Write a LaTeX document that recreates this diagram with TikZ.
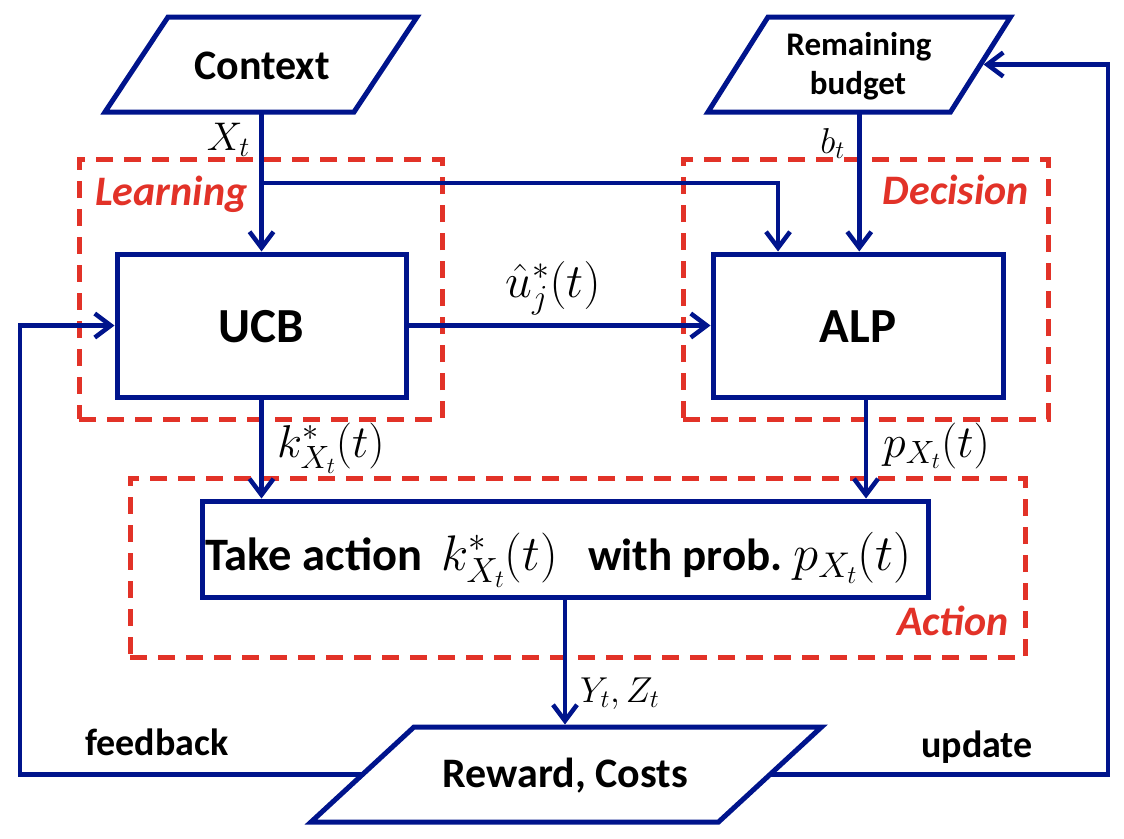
\documentclass[tikz,border=0pt]{standalone}
\usepackage{fix-cm}
\usepackage[no-math]{fontspec}
\setmainfont{Carlito}
\usetikzlibrary{arrows.meta,calc}
\definecolor{navy}{RGB}{0,20,140}
\definecolor{dred}{RGB}{226,50,40}
\tikzset{
  box/.style={draw=navy, line width=5pt, inner sep=0pt, line join=miter},
  pshape/.style={inner sep=0pt, outer sep=0pt},
  grp/.style={draw=dred, line width=5pt, dash pattern=on 17pt off 11pt, inner sep=0pt},
  conn/.style={draw=navy, line width=4.5pt, line join=miter,
    -{Straight Barb[length=16pt,width=24pt]}},
  txt/.style={inner sep=0pt, font=\bfseries\fontsize{42}{50}\selectfont},
  smalltxt/.style={inner sep=0pt, font=\bfseries\fontsize{33}{40}\selectfont},
  sidetxt/.style={inner sep=0pt, font=\bfseries\fontsize{38}{45}\selectfont},
  bigtxt/.style={inner sep=0pt, font=\bfseries\fontsize{49}{58}\selectfont},
  grptxt/.style={inner sep=0pt, text=dred, font=\bfseries\itshape\fontsize{42}{50}\selectfont},
  mlbl/.style={inner sep=0pt, font=\fontsize{46}{55}\selectfont},
  slbl/.style={inner sep=0pt, font=\fontsize{36}{43}\selectfont},
  taketxt/.style={inner sep=0pt, anchor=base west},
}
\begin{document}
\begin{tikzpicture}[x=1pt,y=-1pt]
\fill[white] (0,0) rectangle (1124,838);
\useasboundingbox (0,0) rectangle (1124,838);

% groups
\node[grp, minimum width=363pt, minimum height=260pt] (learn) at (260.5,289) {};
\node[grp, minimum width=365pt, minimum height=260pt] (decide) at (865.5,289) {};
\node[grp, minimum width=895pt, minimum height=179pt] (act) at (577.5,567.5) {};
\node[grptxt, anchor=base west] (tlearn) at (95,205) {Learning};
\node[grptxt, anchor=base east] (tdecide) at (1029,204) {Decision};
\node[grptxt, anchor=base east] (tact) at (1009,635) {Action};

% process boxes
\node[box, minimum width=289pt, minimum height=143pt] (ucb) at (261.5,325.5) {};
\node[box, minimum width=290pt, minimum height=143pt] (alp) at (858,325.5) {};
\node[box, minimum width=726pt, minimum height=96pt] (take) at (565,549) {};

% input/output parallelograms (named frames, slanted outlines)
\node[pshape, minimum width=249pt, minimum height=95pt] (ctx) at (261,64.5) {};
\draw[box] ($(ctx.north west)+(31.5,0)$) -- ($(ctx.north east)+(31.5,0)$)
  -- ($(ctx.south east)-(31.5,0)$) -- ($(ctx.south west)-(31.5,0)$) -- cycle;
\node[pshape, minimum width=242.5pt, minimum height=95pt] (bud) at (859.25,64.5) {};
\draw[box] ($(bud.north west)+(30,0)$) -- ($(bud.north east)+(30,0)$)
  -- ($(bud.south east)-(30,0)$) -- ($(bud.south west)-(30,0)$) -- cycle;
\node[pshape, minimum width=407.5pt, minimum height=95pt] (rew) at (566.25,774.5) {};
\draw[box] ($(rew.north west)+(51.5,0)$) -- ($(rew.north east)+(51.5,0)$)
  -- ($(rew.south east)-(51.5,0)$) -- ($(rew.south west)-(51.5,0)$) -- cycle;

% texts
\node[txt, anchor=base] (tctx) at (262,79) {Context};
\node[smalltxt, anchor=base] (trem) at (859,55) {Remaining};
\node[smalltxt, anchor=base] (tbud) at (858,94) {budget};
\node[bigtxt, anchor=base] (tucb) at (261.5,342) {UCB};
\node[bigtxt, anchor=base] (talp) at (858,342) {ALP};
\node[txt, anchor=base] (trew) at (565.5,787) {Reward, Costs};
\node[taketxt, font=\bfseries\fontsize{46.5}{55}\selectfont] (take1) at (205,570) {Take action};
\node[taketxt, font=\fontsize{50}{58}\selectfont] (take2) at (441,570) {$k^*_{X_t}(t)$};
\node[taketxt, font=\bfseries\fontsize{45}{53}\selectfont] (take3) at (588,570) {with prob.};
\node[taketxt, font=\fontsize{51}{60}\selectfont] (take4) at (793,570) {$p_{X_t}(t)$};
\node[sidetxt, anchor=base west] (tfb) at (85,755) {feedback};
\node[sidetxt, anchor=base west] (tup) at (921,757) {update};

% connectors
\coordinate (j1) at (261.5,183);
\coordinate (j2) at (778,183);
\draw[conn] (ctx.south -| ucb.north) -- (ucb.north);
\draw[conn] (j1) -- (j2) -- (j2 |- alp.north);
\draw[conn] (bud.south) -- (bud.south |- alp.north);
\draw[conn] (ucb.east) -- (alp.west);
\draw[conn] (ucb.south) -- (ucb.south |- take.north);
\coordinate (pa) at (866,397);
\draw[conn] (pa) -- (pa |- take.north);
\draw[conn] (take.south) -- ([yshift=2.5pt]take.south |- rew.north);
\coordinate (fbL) at (20,774.5);
\draw[conn] (rew.west) -- (fbL) -- (fbL |- ucb.west) -- (ucb.west);
\coordinate (upR) at (1108,774.5);
\draw[conn] (rew.east) -- (upR) -- (upR |- bud.east) -- ([xshift=3pt]bud.east);

% connector labels
\node[mlbl, anchor=base east, font=\fontsize{40}{48}\selectfont] (lxt) at (250,150) {$X_t$};
\node[slbl, anchor=base east] (lbt) at (845,153) {$b_t$};
\node[mlbl, anchor=base, font=\fontsize{48}{57}\selectfont] (lu) at (553,297) {$\hat u^*_j(t)$};
\node[mlbl, anchor=base west] (lk) at (277,457) {$k^*_{X_t}(t)$};
\node[mlbl, anchor=base west] (lp) at (883,457) {$p_{X_t}(t)$};
\node[slbl, anchor=base west] (lyz) at (580,702) {$Y_t, Z_t$};
\end{tikzpicture}
\end{document}
